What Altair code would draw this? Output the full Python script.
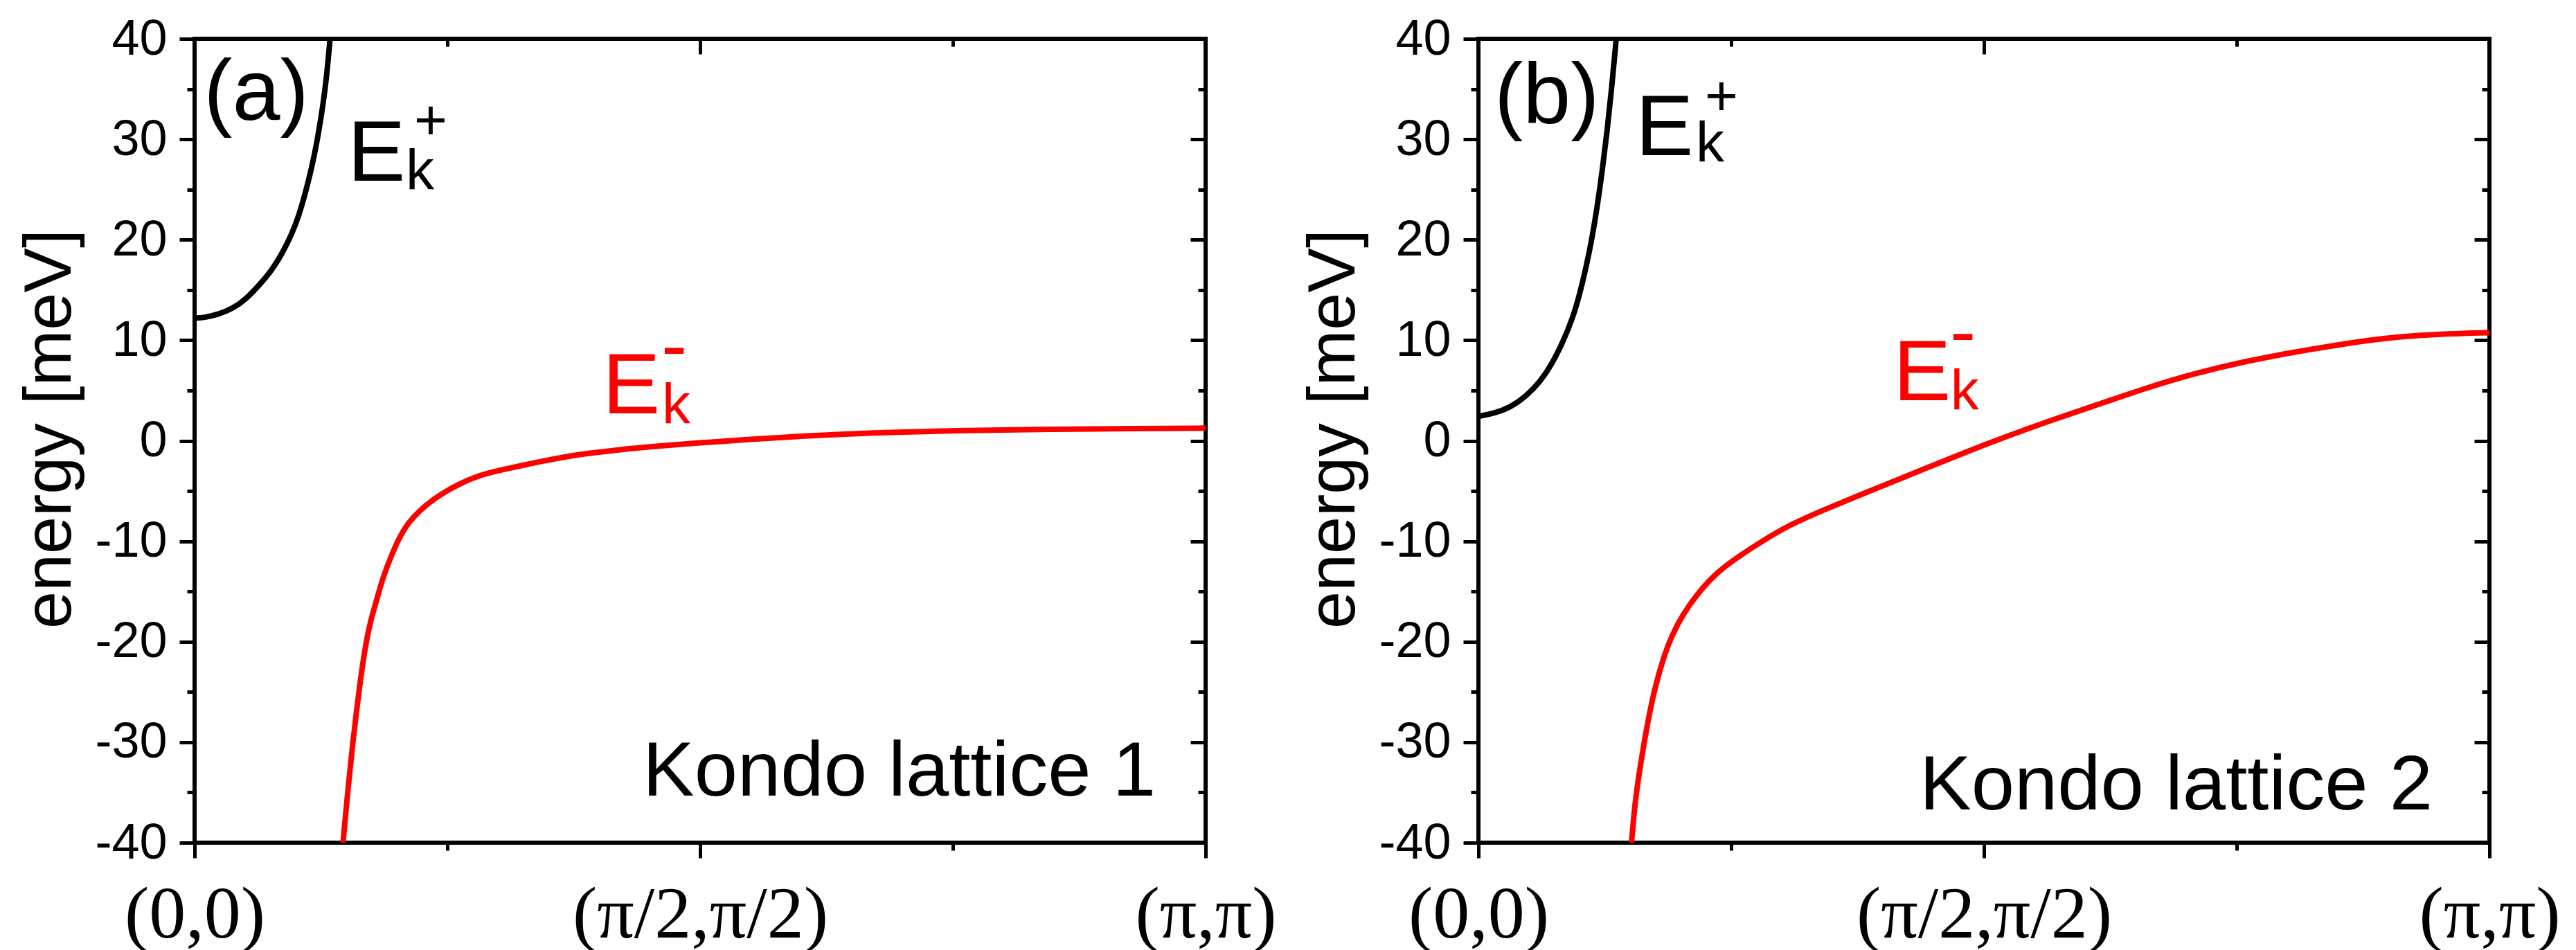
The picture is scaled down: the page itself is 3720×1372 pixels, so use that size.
import altair as alt
import pandas as pd

# ---------------- data (k in units of pi along (0,0)->(pi,pi), energy in meV) -------------
BLACK_A_K = [0, 0.0096, 0.023, 0.037, 0.0507, 0.064, 0.0758, 0.087, 0.0963, 0.1032,
             0.110, 0.1169, 0.1226, 0.127, 0.1306, 0.134]
BLACK_A_E = [12.2, 12.25, 12.56, 13.1, 14.07, 15.5, 16.86, 18.7, 20.6, 22.4,
             24.8, 27.6, 30.6, 33.4, 36.2, 40.0]

RED_A_K = [0.1468, 0.1514, 0.1566, 0.1601, 0.1636, 0.1689, 0.1741, 0.1794, 0.1863, 0.195,
           0.2055, 0.216, 0.230, 0.244, 0.2615, 0.2825, 0.3034, 0.345, 0.380, 0.415,
           0.450, 0.50, 0.55, 0.60, 0.67, 0.75, 0.85, 0.93, 1.0]
RED_A_E = [-40, -35, -29.9, -27, -24.1, -20.4, -17.9, -16.1, -13.6, -11.3,
           -9.0, -7.6, -6.3, -5.3, -4.3, -3.4, -2.9, -2.0, -1.35, -0.95,
           -0.6, -0.2, 0.15, 0.45, 0.8, 1.0, 1.15, 1.22, 1.25]

BLACK_B_K = [0, 0.0153, 0.0313, 0.0473, 0.061, 0.0724, 0.0838, 0.093, 0.0998, 0.1066,
             0.1123, 0.118, 0.1226, 0.1272, 0.1317, 0.1363]
BLACK_B_E = [2.43, 2.71, 3.29, 4.43, 5.86, 7.57, 9.86, 12.14, 14.43, 17.3,
             20.1, 23.6, 27.0, 30.7, 35.0, 40.0]

RED_B_K = [0.1514, 0.1549, 0.160, 0.1672, 0.1742, 0.1829, 0.1916, 0.2021, 0.2161, 0.2336,
           0.2546, 0.279, 0.307, 0.342, 0.3768, 0.4118, 0.4468, 0.4817, 0.5199, 0.567,
           0.614, 0.661, 0.7086, 0.7557, 0.803, 0.850, 0.897, 0.944, 1.0]
RED_B_E = [-40, -35.9, -32.4, -28.1, -24.7, -21.6, -19.3, -17.3, -15.3, -13.3,
           -11.7, -10.1, -8.4, -6.86, -5.43, -4.0, -2.57, -1.14, 0.34, 2.05,
           3.64, 5.27, 6.7, 7.84, 8.75, 9.55, 10.23, 10.6, 10.75]

Y_TICKS = [-40, -35, -30, -25, -20, -15, -10, -5, 0, 5, 10, 15, 20, 25, 30, 35, 40]
X_TICKS = [0, 0.25, 0.5, 0.75, 1.0]
X_TICK_LABELS = ["(0,0)", "", "(π/2,π/2)", "", "(π,π)"]
Y_TITLE = "energy [meV]"

# annotations (text, k, E, font size, colour)
ANN_A_TEXT = ["(a)", "E", "k", "+", "E", "k", "-", "Kondo lattice 1"]
ANN_A_X = [0.009, 0.1514, 0.2089, 0.2171, 0.4034, 0.4623, 0.4616, 0.4432]
ANN_A_Y = [31.97, 25.85, 25.03, 30.0, 2.72, 1.77, 6.94, -35.3]
ANN_B_TEXT = ["(b)", "E", "k", "+", "E", "k", "-", "Kondo lattice 2"]
ANN_B_X = [0.0158, 0.1555, 0.2151, 0.224, 0.4103, 0.467, 0.4664, 0.4363]
ANN_B_Y = [31.56, 28.4, 27.8, 32.4, 4.01, 3.13, 8.3, -36.67]
ANN_SIZE = [124, 125, 82, 82, 125, 82, 112, 112]
ANN_COLOR = ["black", "black", "black", "black", "red", "red", "red", "black"]

W, H = 1460, 1161

xs = alt.Scale(domain=[0, 1], nice=False, zero=False)
ys = alt.Scale(domain=[-40, 40], nice=False, zero=False)

x_label_expr = " : ".join(
    f"abs(datum.value - {v}) < 1e-6 ? '{lab}'" for v, lab in zip(X_TICKS, X_TICK_LABELS)
) + " : ''"
x_tick_size = {"expr": "abs(datum.value * 2 - round(datum.value * 2)) < 1e-6 ? 22 : 11"}
y_tick_size = {"expr": "datum.value % 10 === 0 ? 22 : 11"}

common = dict(domain=False, grid=False, tickColor="black", tickWidth=5)

x_main = alt.Axis(orient="bottom", values=X_TICKS, labelExpr=x_label_expr,
                  tickSize=x_tick_size, labelFont="Liberation Serif", labelFontSize=106,
                  labelColor="black", labelPadding=30, labelFlush=False, labelOverlap=False,
                  labelLimit=2000, title=None, **common)
x_in = alt.Axis(orient="bottom", offset=-H, values=X_TICKS, labels=False,
                tickSize=x_tick_size, title=None, **common)
y_main = alt.Axis(orient="left", values=Y_TICKS,
                  labelExpr="datum.value % 10 === 0 ? '' + datum.value : ''",
                  tickSize=y_tick_size, labelFont="Liberation Sans", labelFontSize=72,
                  labelColor="black", labelPadding=18, labelFlush=False, labelOverlap=False,
                  title=Y_TITLE, titleFont="Liberation Sans", titleFontSize=97,
                  titleFontWeight="normal", titleColor="black",
                  titleX=-160, titleY=563, **common)
y_in = alt.Axis(orient="left", offset=-W, values=Y_TICKS, labels=False,
                tickSize=y_tick_size, title=None, **common)


def panel(bk, be, rk, re_, at, ax, ay):
    black = alt.Chart(pd.DataFrame({"k": bk, "E": be})).mark_line(
        color="black", strokeWidth=8, interpolate="basis", clip=True
    ).encode(x=alt.X("k:Q", scale=xs, axis=x_main), y=alt.Y("E:Q", scale=ys, axis=y_main))
    red = alt.Chart(pd.DataFrame({"k": rk, "E": re_})).mark_line(
        color="#ff0000", strokeWidth=8, interpolate="basis", clip=True
    ).encode(x=alt.X("k:Q", scale=xs, axis=x_in), y=alt.Y("E:Q", scale=ys, axis=y_in))
    ann = pd.DataFrame({"t": at, "k": ax, "E": ay, "s": ANN_SIZE, "c": ANN_COLOR})
    text = alt.Chart(ann).mark_text(align="left", baseline="alphabetic",
                                    font="Liberation Sans").encode(
        x=alt.X("k:Q", scale=xs, axis=None),
        y=alt.Y("E:Q", scale=ys, axis=None),
        text="t:N",
        size=alt.Size("s:Q", scale=None),
        color=alt.Color("c:N", scale=None),
    )
    return alt.layer(black, red, text).resolve_axis(x="independent", y="independent").properties(
        width=W, height=H)


pa = panel(BLACK_A_K, BLACK_A_E, RED_A_K, RED_A_E, ANN_A_TEXT, ANN_A_X, ANN_A_Y)
pb = panel(BLACK_B_K, BLACK_B_E, RED_B_K, RED_B_E, ANN_B_TEXT, ANN_B_X, ANN_B_Y)

chart = alt.hconcat(pa, pb, spacing=27).properties(
    padding={"left": 12, "top": 9, "right": 5, "bottom": 0},
    background="white",
).configure_view(stroke="black", strokeWidth=6)

chart.save("out.html", embed_options={"renderer": "svg", "actions": False})
